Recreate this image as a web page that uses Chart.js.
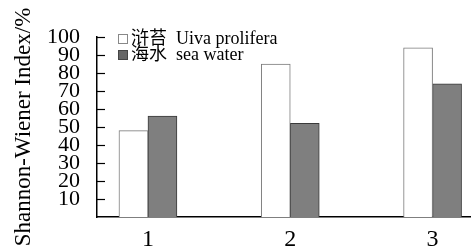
<!DOCTYPE html>
<html>
<head>
<meta charset="utf-8">
<script src="https://cdn.jsdelivr.net/npm/chart.js@4"></script>
<style>
  html, body { margin: 0; padding: 0; background: #fff; }
  #wrap { width: 471px; height: 251px; }
</style>
</head>
<body>
<div id="wrap"><canvas id="shannonChart" width="471" height="251"></canvas></div>
<script>
// data
const categories = ['1', '2', '3'];
const seriesNames = ['浒苔  Uiva prolifera', '海水  sea water'];
const ulvaValues = [48, 85, 94];
const seaWaterValues = [56, 52, 74];
const yTicks = [10, 20, 30, 40, 50, 60, 70, 80, 90, 100];

const serif = '"Liberation Serif", "Times New Roman", "Noto Sans CJK SC", serif';

// inward tick marks on the y axis + legend drawn inside the plot
const extras = {
    id: 'extras',
    afterDraw(chart) {
        const ctx = chart.ctx;
        const y = chart.scales.y;
        const left = chart.chartArea.left;
        ctx.save();
        ctx.strokeStyle = '#000';
        ctx.lineWidth = 1.2;
        yTicks.forEach(function (v) {
            const py = Math.round(y.getPixelForValue(v)) + 0.5;
            ctx.beginPath();
            ctx.moveTo(left, py);
            ctx.lineTo(left + 8, py);
            ctx.stroke();
        });

        // legend
        ctx.font = '18px ' + serif;
        ctx.textBaseline = 'middle';
        chart.data.datasets.forEach(function (ds, i) {
            const sy = 34 + i * 16;
            ctx.fillStyle = ds.legendFill;
            ctx.fillRect(118, sy, 10, 10);
            ctx.strokeStyle = ds.legendStroke;
            ctx.lineWidth = 1;
            ctx.strokeRect(118.5, sy + 0.5, 9, 9);
            ctx.fillStyle = '#000';
            ctx.fillText(ds.label, 131, sy + 5);
        });
        ctx.restore();
    }
};

const ctx = document.getElementById('shannonChart').getContext('2d');
const chart = new Chart(ctx, {
    type: 'bar',
    data: {
        datasets: [
            {
                label: seriesNames[0],
                data: categories.map((c, i) => ({ x: Number(c), y: ulvaValues[i] })),
                backgroundColor: '#ffffff',
                borderColor: '#7a7a7a',
                borderWidth: 1,
                barThickness: 29,
                legendFill: '#ffffff',
                legendStroke: '#888888'
            },
            {
                label: seriesNames[1],
                data: categories.map((c, i) => ({ x: Number(c), y: seaWaterValues[i] })),
                backgroundColor: '#7f7f7f',
                borderColor: '#3a3a3a',
                borderWidth: 1,
                barThickness: 29,
                legendFill: '#666666',
                legendStroke: '#444444'
            }
        ]
    },
    options: {
        responsive: false,
        animation: false,
        layout: { padding: { top: 37, right: 0, left: 0, bottom: 0 } },
        plugins: {
            legend: { display: false },
            tooltip: { enabled: false }
        },
        scales: {
            x: {
                type: 'linear',
                offset: false,
                min: 0.642,
                max: 3.27,
                grid: { display: false, drawTicks: false },
                border: { display: true, color: '#000', width: 1.5 },
                afterBuildTicks: function (scale) {
                    scale.ticks = categories.map(c => ({ value: Number(c) }));
                },
                afterFit: function (scale) { scale.height = 34; },
                ticks: {
                    color: '#000',
                    padding: 8,
                    maxRotation: 0,
                    autoSkip: false,
                    font: { family: serif, size: 24 },
                    callback: function (v) { return String(v); }
                }
            },
            y: {
                min: 0,
                max: 100,
                grid: { display: false, drawTicks: false },
                border: { display: true, color: '#000', width: 1.5 },
                afterBuildTicks: function (scale) {
                    scale.ticks = yTicks.map(v => ({ value: v }));
                },
                afterFit: function (scale) { scale.width = 97; },
                ticks: {
                    color: '#000',
                    padding: 17,
                    autoSkip: false,
                    font: { family: serif, size: 22 }
                },
                title: {
                    display: true,
                    text: 'Shannon-Wiener Index/%',
                    color: '#000',
                    padding: { top: 10, bottom: 0 },
                    font: { family: serif, size: 23 }
                }
            }
        }
    },
    plugins: [extras]
});
</script>
</body>
</html>
